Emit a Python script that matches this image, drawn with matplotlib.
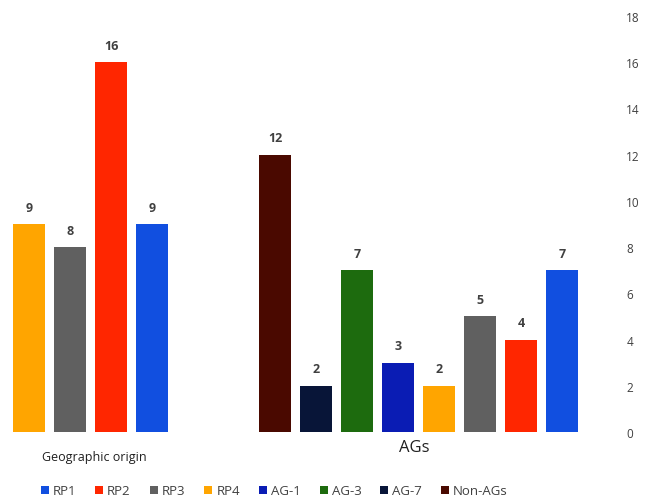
import matplotlib.pyplot as plt
from matplotlib.patches import Patch
from matplotlib.transforms import blended_transform_factory

# ── data ────────────────────────────────────────────────────────────────────
geo_labels = ["RP4", "RP3", "RP2", "RP1"]
geo_values = [9, 8, 16, 9]
ag_labels = ["Non-AGs", "AG-7", "AG-3", "AG-1", "RP4", "RP3", "RP2", "RP1"]
ag_values = [12, 2, 7, 3, 2, 5, 4, 7]
legend_order = ["RP1", "RP2", "RP3", "RP4", "AG-1", "AG-3", "AG-7", "Non-AGs"]
group_names = ["Geographic origin", "AGs"]
yticks = list(range(0, 19, 2))

# ── colours ─────────────────────────────────────────────────────────────────
COLORS = {
    "RP1": "#114FE0",
    "RP2": "#FF2600",
    "RP3": "#606060",
    "RP4": "#FFA500",
    "AG-1": "#0A1CB4",
    "AG-3": "#1D6B0E",
    "AG-7": "#081538",
    "Non-AGs": "#4A0900",
}

plt.rcParams["font.family"] = ["Open Sans", "DejaVu Sans"]

fig = plt.figure(figsize=(6.47, 5.02), dpi=100)
ax = fig.add_axes([0.0, 0.1375, 0.925, 0.8285])

geo_x = list(range(len(geo_labels)))
ag_x = [6 + i for i in range(len(ag_labels))]

for xs, labels, vals in [(geo_x, geo_labels, geo_values), (ag_x, ag_labels, ag_values)]:
    ax.bar(xs, vals, width=0.78, color=[COLORS[l] for l in labels], zorder=2)
    for x, v in zip(xs, vals):
        ax.text(x, v + 0.45, str(v), ha="center", va="bottom",
                fontsize=9, fontweight="bold", color="#404040")

ax.set_xlim(-0.71, 13.88)
ax.set_ylim(0, 18)
ax.set_yticks(yticks)
ax.yaxis.tick_right()
ax.tick_params(axis="y", length=0, pad=20, labelsize=8.5, labelcolor="#404040")
ax.tick_params(axis="x", length=0, labelbottom=False)
for s in ax.spines.values():
    s.set_visible(False)

# group labels under the bars
trans = blended_transform_factory(ax.transData, ax.transAxes)
ax.text(sum(geo_x) / len(geo_x) + 0.1, -0.06, group_names[0], transform=trans,
        ha="center", va="center", fontsize=9, color="#202020")
ax.text(sum(ag_x) / len(ag_x) - 0.1, -0.035, group_names[1], transform=trans,
        ha="center", va="center", fontsize=12, color="#202020")

# legend
handles = [Patch(facecolor=COLORS[l], label=l) for l in legend_order]
fig.legend(handles=handles, loc="center", ncol=8, frameon=False,
           bbox_to_anchor=(0.424, 0.02), fontsize=9.5, handlelength=0.6,
           handleheight=0.6, handletextpad=0.3, columnspacing=1.45,
           labelcolor="#404040")

fig.savefig("out.png", dpi=100)
